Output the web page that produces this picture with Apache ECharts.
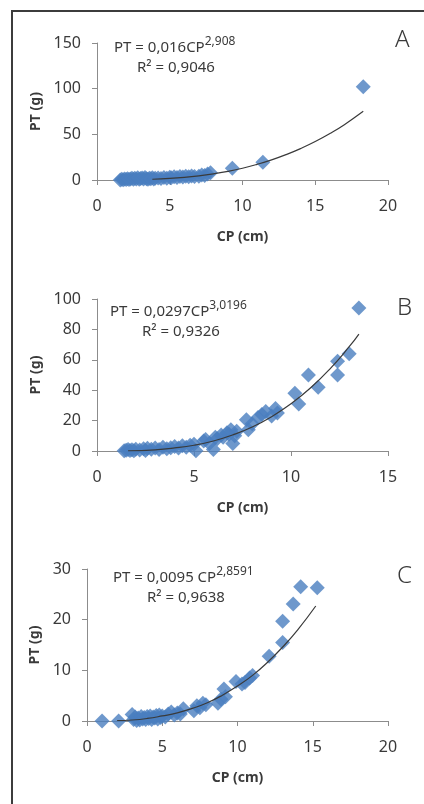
<!DOCTYPE html>
<html>
<head>
<meta charset="utf-8">
<script src="https://cdn.jsdelivr.net/npm/echarts@6/dist/echarts.min.js"></script>
<style>
  html, body { margin: 0; padding: 0; background: #fff; }
  #chart { width: 424px; height: 804px; }
</style>
</head>
<body>
<div id="chart"></div>
<script>
// panel A
const aCP = [1.6, 1.7, 1.8, 1.9, 2.0, 2.1, 2.2, 2.3, 2.4, 2.5, 2.6, 2.7, 2.8, 2.9, 3.0, 3.1, 3.2, 3.3, 3.4, 3.5, 3.6, 3.7, 3.8, 3.9, 4.0, 4.2, 4.4, 4.6, 4.8, 5.0, 5.1, 5.3, 5.5, 5.7, 5.9, 6.1, 6.3, 6.5, 6.7, 7.0, 7.2, 7.4, 7.6, 7.8, 9.3, 11.4, 18.3];
const aPT = [0.1, 0.8, 0.3, 1.2, 0.5, 1.5, 0.6, 1.0, 2.0, 0.8, 1.8, 1.2, 2.5, 0.9, 1.6, 2.2, 1.0, 2.8, 1.5, 0.8, 2.0, 1.4, 2.6, 1.2, 1.8, 2.2, 1.6, 2.8, 2.0, 3.0, 2.4, 3.5, 2.8, 3.8, 3.2, 4.0, 3.6, 4.5, 3.8, 4.2, 5.5, 4.8, 6.5, 8.0, 13.0, 19.5, 102];
const trendACP = [3.8, 5, 6, 7, 8, 9, 10, 11, 12, 13, 14, 15, 16, 17, 18.3];
const trendAPT = [0.8, 1.7, 2.9, 4.6, 6.8, 9.5, 12.9, 17.1, 22, 27.8, 34.5, 42.1, 50.8, 60.6, 75.2];

// panel B
const bCP = [1.4, 1.5, 1.6, 1.7, 1.8, 1.9, 2.0, 2.2, 2.4, 2.5, 2.6, 2.8, 3.0, 3.2, 3.4, 3.6, 3.8, 4.0, 4.2, 4.4, 4.6, 4.8, 5.0, 5.1, 5.5, 5.6, 5.8, 6.0, 6.1, 6.2, 6.4, 6.5, 6.7, 6.8, 6.9, 7.0, 7.1, 7.2, 7.7, 7.8, 8.0, 8.3, 8.5, 8.7, 9.0, 9.2, 9.3, 10.2, 10.4, 10.9, 11.4, 12.4, 12.4, 13.0, 13.5];
const bPT = [0.2, 0.5, 1.0, 0.3, 0.8, 0.2, 1.2, 0.6, 1.5, 0.4, 1.8, 1.2, 2.0, 1.0, 2.5, 1.5, 2.2, 3.0, 2.0, 3.5, 2.5, 3.8, 4.5, 0.2, 6.5, 7.5, 5.0, 1.0, 9.0, 8.0, 10.5, 9.0, 12.0, 11.0, 14.0, 5.0, 10.0, 13.0, 20.5, 14.0, 18.0, 22.0, 24.0, 26.0, 23.0, 28.0, 25.0, 38.0, 31.0, 50.0, 42.0, 59.0, 50.0, 64.0, 94.0];
const trendBCP = [1.6, 3, 4, 5, 6, 7, 8, 9, 10, 11, 12, 13, 13.5];
const trendBPT = [0.1, 0.8, 2.0, 3.8, 6.6, 10.6, 15.8, 22.6, 31.1, 41.4, 53.9, 68.6, 76.9];

// panel C
const cCP = [1.0, 2.1, 3.0, 3.1, 3.2, 3.3, 3.4, 3.5, 3.6, 3.7, 3.8, 3.9, 4.0, 4.1, 4.2, 4.3, 4.4, 4.5, 4.6, 4.7, 4.8, 4.9, 5.0, 5.2, 5.4, 5.6, 5.8, 6.0, 6.2, 6.4, 7.1, 7.3, 7.5, 7.7, 7.9, 8.7, 8.9, 9.1, 9.2, 9.9, 10.3, 10.5, 10.8, 11.0, 12.1, 13.0, 13.0, 13.7, 14.2, 15.3];
const cPT = [0, 0, 1.3, 0.3, 0.8, 0.1, 0.6, 0.2, 0.9, 0.4, 0.7, 0.3, 0.9, 0.5, 1.0, 0.3, 0.8, 0.6, 1.1, 0.4, 1.2, 0.7, 1.0, 0.8, 1.4, 1.8, 1.2, 1.6, 1.4, 2.4, 2.0, 3.0, 2.6, 3.5, 3.2, 3.5, 4.3, 6.3, 4.8, 7.8, 7.3, 7.6, 8.5, 9.0, 12.8, 15.5, 19.7, 23.1, 26.5, 26.3];
const trendCCP = [2, 3, 4, 5, 6, 7, 8, 9, 10, 11, 12, 13, 14, 15.2];
const trendCPT = [0.1, 0.2, 0.5, 1.0, 1.6, 2.5, 3.6, 5.1, 6.9, 9.0, 11.6, 14.6, 18.0, 22.7];

const xMax = [20, 15, 20];
const yMax = [150, 100, 30];
const yStep = [50, 20, 10];

const FONT = 'Noto Sans';
const axisGray = '#8c8c8c';
const textColor = '#3a3a3a';
const blue = '#4a7ebf';

const zip = (xs, ys) => xs.map((x, i) => [x, ys[i]]);

const grids = [
  { left: 97, right: 36, top: 43, height: 137 },
  { left: 97, right: 36, top: 299, height: 152 },
  { left: 87, right: 36, top: 569, height: 152 },
];

const xAxes = grids.map((g, i) => ({
  type: 'value',
  gridIndex: i,
  min: 0,
  max: xMax[i],
  interval: 5,
  name: 'CP (cm)',
  nameLocation: 'middle',
  nameGap: 50,
  nameTextStyle: { fontFamily: FONT, fontWeight: 'bold', fontSize: 14, color: textColor },
  axisLine: { show: true, lineStyle: { color: axisGray, width: 1 } },
  axisTick: { show: true, inside: false, length: 5, lineStyle: { color: axisGray } },
  axisLabel: { margin: 18, fontFamily: FONT, fontSize: 16, color: textColor },
  splitLine: { show: false },
}));

const yAxes = grids.map((g, i) => ({
  type: 'value',
  gridIndex: i,
  min: 0,
  max: yMax[i],
  interval: yStep[i],
  name: 'PT (g)',
  nameLocation: 'middle',
  nameRotate: 90,
  nameGap: i === 2 ? 44 : 54,
  nameTextStyle: { fontFamily: FONT, fontWeight: 'bold', fontSize: 14, color: textColor },
  axisLine: { show: true, lineStyle: { color: axisGray, width: 1 } },
  axisTick: { show: true, inside: false, length: 5, lineStyle: { color: axisGray } },
  axisLabel: { margin: 16, fontFamily: FONT, fontSize: 16, color: textColor },
  splitLine: { show: false },
}));

const points = [zip(aCP, aPT), zip(bCP, bPT), zip(cCP, cPT)];
const trends = [zip(trendACP, trendAPT), zip(trendBCP, trendBPT), zip(trendCCP, trendCPT)];

const series = [];
points.forEach((pts, i) => {
  series.push({
    type: 'scatter',
    xAxisIndex: i,
    yAxisIndex: i,
    symbol: 'diamond',
    symbolSize: 15,
    itemStyle: { color: blue },
    data: pts,
    z: 2,
  });
  series.push({
    type: 'line',
    xAxisIndex: i,
    yAxisIndex: i,
    smooth: true,
    showSymbol: false,
    lineStyle: { color: '#3a3a3a', width: 1.2 },
    data: trends[i],
    z: 3,
  });
});

function equation(x, y, main, sup) {
  return {
    type: 'text',
    x: x,
    y: y,
    style: {
      text: '{m|' + main + '}{s|' + sup + '}',
      fill: textColor,
      rich: {
        m: { fontFamily: FONT, fontSize: 15, lineHeight: 19, verticalAlign: 'bottom', fill: textColor },
        s: { fontFamily: FONT, fontSize: 12, lineHeight: 19, verticalAlign: 'top', fill: textColor },
      },
    },
  };
}

function plain(x, y, text, size, weight) {
  return {
    type: 'text',
    x: x,
    y: y,
    style: { text: text, fontFamily: FONT, fontSize: size, fontWeight: weight || 'normal', fill: textColor },
  };
}

const chart = echarts.init(document.getElementById('chart'));
chart.setOption({
  backgroundColor: '#fff',
  animation: false,
  grid: grids,
  xAxis: xAxes,
  yAxis: yAxes,
  series: series,
  graphic: [
    {
      type: 'polyline',
      shape: { points: [[12, 804], [12, 11], [424, 11]] },
      style: { stroke: '#3c3c3c', lineWidth: 2, fill: null },
    },
    equation(114, 36, 'PT = 0,016CP', '2,908'),
    plain(137, 60, 'R² = 0,9046', 15),
    plain(395, 28, 'A', 24, 300),
    equation(110, 300, 'PT = 0,0297CP', '3,0196'),
    plain(142, 324, 'R² = 0,9326', 15),
    plain(397, 296, 'B', 24, 300),
    equation(113, 566, 'PT = 0,0095 CP', '2,8591'),
    plain(147, 590, 'R² = 0,9638', 15),
    plain(397, 564, 'C', 24, 300),
  ],
});
</script>
</body>
</html>
